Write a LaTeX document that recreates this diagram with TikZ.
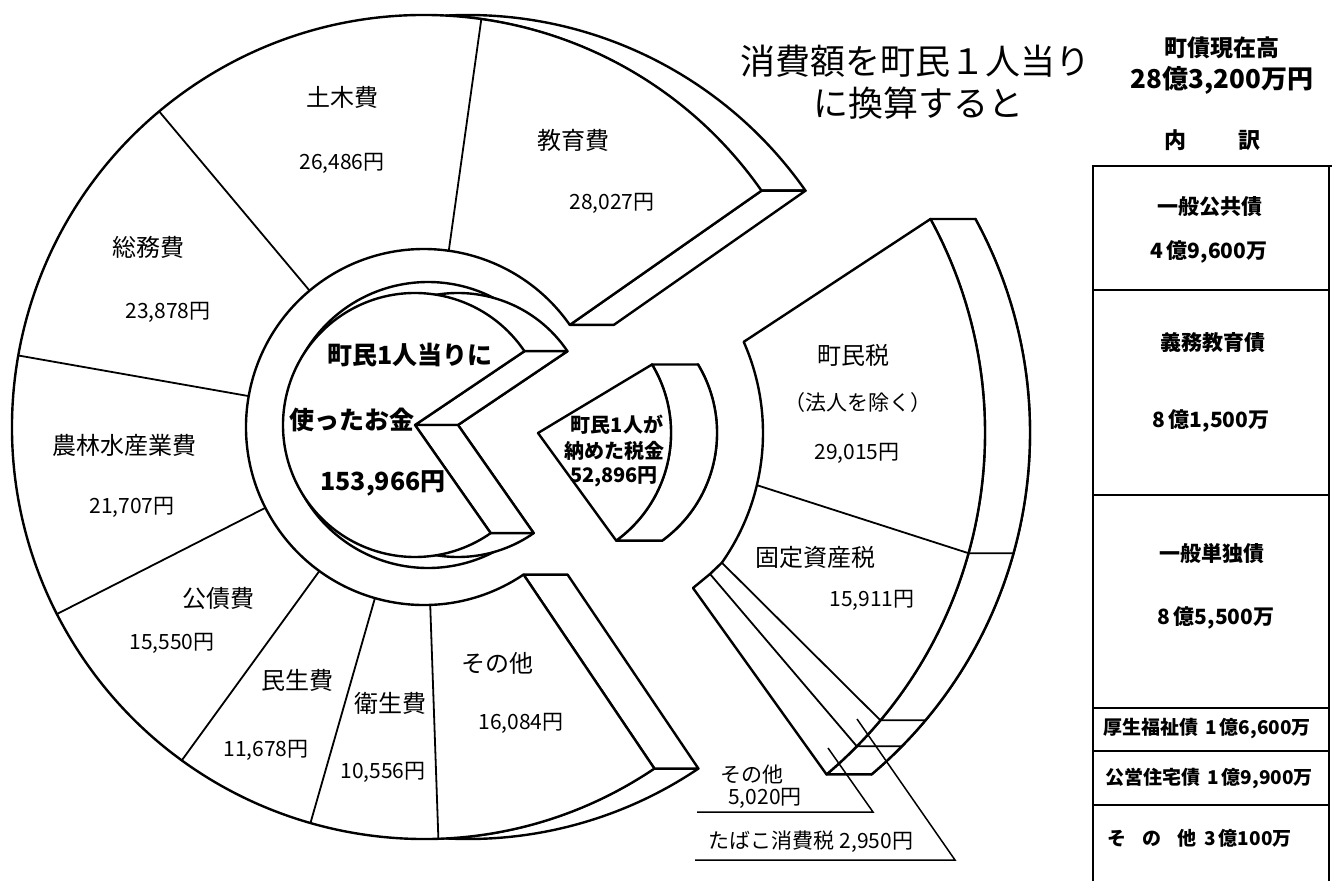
\documentclass[tikz,border=0pt]{standalone}
\usepackage{fontspec}
\setmainfont{Noto Sans CJK JP}
\newcommand\myfs[1]{\fontsize{#1pt}{#1pt}\selectfont}
\begin{document}
\begin{tikzpicture}[x=1pt,y=1pt,
  shp/.style={draw=black, fill=white, line width=2.4pt, line join=round},
  edge/.style={draw=black, line width=2.4pt, line join=round},
  ln/.style={draw=black, line width=1.8pt},
  thn/.style={draw=black, line width=1.5pt},
  lab/.style={inner sep=0pt, font=\myfs{24}},
  num/.style={inner sep=0pt, font=\myfs{21}},
  bld/.style={inner sep=0pt, font=\bfseries\myfs{25}},
  tbl/.style={inner sep=0pt, font=\bfseries\myfs{21}},
  tbls/.style={inner sep=0pt, font=\bfseries\myfs{19}, anchor=west}]
\useasboundingbox (0,0) rectangle (1332,-881);
\fill[white] (0,0) rectangle (1332,-881);

% ---------- expense disc ----------
\coordinate (O1) at (424,-427);
\coordinate (O1b) at (468,-427);
\coordinate (EFo) at ([shift={(35:412pt)}]O1);
\coordinate (EBo) at ([shift={(35:412pt)}]O1b);
\coordinate (EFi) at ([shift={(35:178pt)}]O1);
\coordinate (EBi) at ([shift={(35:178pt)}]O1b);
\coordinate (SFo) at ([shift={(304:412pt)}]O1);
\coordinate (SBo) at ([shift={(304:412pt)}]O1b);
\coordinate (SFi) at ([shift={(304:178pt)}]O1);
\coordinate (SBi) at ([shift={(304:178pt)}]O1b);
% back faces of the two cut sectors
\draw[shp] (EFo) -- (EBo) arc[start angle=35,end angle=93.1,radius=412pt]
   arc[start angle=86.9,end angle=35,radius=412pt] -- cycle;
\draw[shp] (EFi) -- (EFo) -- (EBo) -- (EBi) -- cycle;
\draw[shp] (SFo) -- (SBo) arc[start angle=304,end angle=266.9,radius=412pt]
   arc[start angle=273.1,end angle=304,radius=412pt] -- cycle;
\draw[shp] (SFi) -- (SFo) -- (SBo) -- (SBi) -- cycle;
% front face
\draw[shp] (EFo) arc[start angle=35,end angle=304,radius=412pt] -- (SFi)
   arc[start angle=304,end angle=35,radius=178pt] -- cycle;
\foreach \a in {82,130,170,207,234,254,272}
  \draw[ln] ([shift={(\a:178pt)}]O1) -- ([shift={(\a:412pt)}]O1);

% ---------- central pie (expenses) ----------
\coordinate (Orim) at (428,-425);
\draw[edge] ([shift={(50:143pt)}]Orim) arc[start angle=50,end angle=310,radius=143pt];
\coordinate (Cf) at (415,-425);
\coordinate (Cb) at (458,-425);
\coordinate (CfT) at ([shift={(34:132pt)}]Cf);
\coordinate (CbT) at ([shift={(34:132pt)}]Cb);
\coordinate (CfB) at ([shift={(305:132pt)}]Cf);
\coordinate (CbB) at ([shift={(305:132pt)}]Cb);
\draw[shp] (Cb) -- (CbT) arc[start angle=34,end angle=305,radius=132pt] -- cycle;
\draw[shp] (Cf) -- (CfT) -- (CbT) -- (Cb) -- cycle;
\draw[shp] (Cf) -- (CfB) -- (CbB) -- (Cb) -- cycle;
\draw[shp] (Cf) -- (CfT) arc[start angle=34,end angle=305,radius=132pt] -- cycle;

% ---------- tax wedge ----------
\coordinate (Tf) at (538,-433);
\coordinate (Tb) at (584,-433);
\coordinate (TfT) at ([shift={(31:133pt)}]Tf);
\coordinate (TbT) at ([shift={(31:133pt)}]Tb);
\coordinate (TfB) at ([shift={(-54:133pt)}]Tf);
\coordinate (TbB) at ([shift={(-54:133pt)}]Tb);
\draw[shp] (Tb) -- (TbT) arc[start angle=31,end angle=-54,radius=133pt] -- cycle;
\draw[shp] (TfT) -- (TbT) arc[start angle=31,end angle=-54,radius=133pt] -- (TfB)
   arc[start angle=-54,end angle=31,radius=133pt] -- cycle;
\draw[shp] (Tf) -- (TfT) arc[start angle=31,end angle=-54,radius=133pt] -- cycle;

% ---------- tax sectors ----------
\coordinate (Ct) at (538,-433);
\coordinate (P1) at ([shift={(23.9:225pt)}]Ct);
\coordinate (P2) at ([shift={(28.6:447pt)}]Ct);
\coordinate (P3) at ([shift={(-49.8:447pt)}]Ct);
\coordinate (P4) at (693,-588);
\coordinate (P5) at (710,-574);
\coordinate (P6) at ([shift={(-35.2:225pt)}]Ct);
\draw[shp] ([xshift=45pt]P1) -- ([xshift=45pt]P2) arc[start angle=28.6,end angle=-49.8,radius=447pt]
   -- ([xshift=45pt]P4) -- ([xshift=45pt]P5) -- ([xshift=45pt]P6)
   arc[start angle=-35.2,end angle=23.9,radius=225pt] -- cycle;
\draw[shp] (P2) -- ([xshift=45pt]P2) arc[start angle=28.6,end angle=-49.8,radius=447pt]
   -- (P3) arc[start angle=-49.8,end angle=28.6,radius=447pt] -- cycle;
\draw[shp] (P1) -- (P2) arc[start angle=28.6,end angle=-49.8,radius=447pt]
   -- (P4) -- (P5) -- (P6) arc[start angle=-35.2,end angle=23.9,radius=225pt] -- cycle;
\coordinate (Q1) at ([shift={(-15.6:447pt)}]Ct);
\coordinate (Q2) at ([shift={(-40:447pt)}]Ct);
\coordinate (Q3) at ([shift={(-44.5:447pt)}]Ct);
\draw[ln] ([shift={(-13.4:225pt)}]Ct) -- (Q1) -- ([xshift=45pt]Q1);
\draw[ln] (P6) -- (Q2) -- ([xshift=45pt]Q2);
\draw[ln] (P5) -- (Q3) -- ([xshift=45pt]Q3);

% leaders
\coordinate (L1s) at (828,-748);
\coordinate (L1k) at (873,-812);
\coordinate (L1e) at (697,-812);
\coordinate (L2s) at (857,-719);
\coordinate (L2k) at (955,-860);
\coordinate (L2e) at (695,-860);
\draw[thn] (L1s) -- (L1k) -- (L1e);
\draw[thn] (L2s) -- (L2k) -- (L2e);

% ---------- table ----------
\coordinate (TA) at (1093,-881);
\coordinate (TB) at (1093,-166);
\coordinate (TC) at (1332,-166);
\coordinate (TD) at (1329,-166);
\coordinate (TE) at (1329,-881);
\draw[ln] (TA) -- (TB) -- (TC);
\draw[ln] (TD) -- (TE);
\foreach \yy in {290,495,708,751,805}
  \draw[ln] (1093,-\yy) -- (1329,-\yy);

% ---------- texts ----------
\node[lab] (t1) at (342,-97) {土木費};
\node[num] (n1) at (342,-163) {26,486円};
\node[lab] (t2) at (573,-140) {教育費};
\node[num] (n2) at (612,-203) {28,027円};
\node[lab] (t3) at (148,-247) {総務費};
\node[num] (n3) at (168,-312) {23,878円};
\node[lab] (t4) at (124,-445) {農林水産業費};
\node[num] (n4) at (132,-507) {21,707円};
\node[lab] (t5) at (218,-598) {公債費};
\node[num] (n5) at (172,-643) {15,550円};
\node[lab] (t6) at (297,-680) {民生費};
\node[num] (n6) at (266,-750) {11,678円};
\node[lab] (t7) at (390,-703) {衛生費};
\node[num] (n7) at (383,-772) {10,556円};
\node[lab] (t8) at (497,-663) {その他};
\node[num] (n8) at (521,-723) {16,084円};

\node[bld] (c1) at (410,-355) {町民1人当りに};
\node[bld] (c2) at (352,-420) {使ったお金};
\node[bld] (c3) at (383,-483) {153,966円};

\node[bld, font=\bfseries\myfs{20}] (d1) at (617,-425) {町民1人が};
\node[bld, font=\bfseries\myfs{20}] (d2) at (614,-451) {納めた税金};
\node[bld, font=\bfseries\myfs{20}] (d3) at (614,-477) {52,896円};

\node[lab] (x1) at (853,-355) {町民税};
\node[lab, font=\myfs{21}] (x2) at (858,-403) {（法人を除く）};
\node[num] (x3) at (857,-453) {29,015円};
\node[lab] (x4) at (815,-557) {固定資産税};
\node[num] (x5) at (872,-600) {15,911円};
\node[num] (x6) at (752,-775) {その他};
\node[num] (x7) at (765,-798) {5,020円};
\node[num] (x8) at (811,-842) {たばこ消費税\ 2,950円};

\node[inner sep=0pt, font=\myfs{35}] (h1) at (915,-61) {消費額を町民１人当り};
\node[inner sep=0pt, font=\myfs{35}] (h2) at (918,-103) {に換算すると};

\node[inner sep=0pt, font=\bfseries\myfs{23}] (r1) at (1222,-48) {町債現在高};
\node[inner sep=0pt, font=\bfseries\myfs{26}] (r2) at (1222,-80) {28億3,200万円};
\node[inner sep=0pt, font=\bfseries\myfs{22}] (r3) at (1212,-140) {内\hspace{52pt}訳};

\node[tbl] (k1) at (1210,-207) {一般公共債};
\node[tbl] (k2) at (1209,-252) {4\,億9,600万};
\node[tbl] (k3) at (1213,-343) {義務教育債};
\node[tbl] (k4) at (1211,-421) {8\,億1,500万};
\node[tbl] (k5) at (1212,-554) {一般単独債};
\node[tbl] (k6) at (1216,-618) {8\,億5,500万};
\node[tbls] (k7) at (1103,-729) {厚生福祉債\hspace{7pt}1\,億6,600万};
\node[tbls] (k8) at (1105,-778) {公営住宅債\hspace{7pt}1\,億9,900万};
\node[tbls] (k9) at (1107,-838) {そ\hspace{16pt}の\hspace{16pt}他\hspace{8pt}3\,億100万};
\end{tikzpicture}
\end{document}
